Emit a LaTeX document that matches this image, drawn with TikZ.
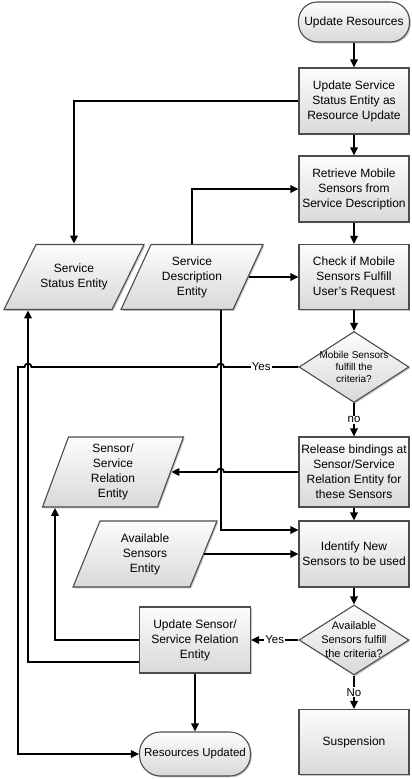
\documentclass[tikz,border=0pt]{standalone}
\usepackage{fontspec}
\setmainfont{Liberation Sans}
\usetikzlibrary{shapes.geometric,arrows.meta,shadows}

\begin{document}
\begin{tikzpicture}[x=1pt, y=-1pt, line width=1.8pt,
    proc/.style={draw=black!70, line width=1.1pt, top color=gray!2, bottom color=gray!30,
        drop shadow={shadow xshift=1.3pt, shadow yshift=-1.3pt, opacity=0.45},
        minimum width=110pt, minimum height=66pt, inner sep=1pt, align=center,
        font=\fontsize{12}{15}\selectfont},
    term/.style={proc, rounded corners=19pt, minimum width=111pt, minimum height=40pt},
    decision/.style={proc, diamond, inner sep=0pt, minimum width=110pt, minimum height=71pt},
    dtext/.style={align=center, inner sep=0pt},
    entshape/.style={draw=black!70, line width=1.1pt, top color=gray!2, bottom color=gray!30,
        drop shadow={shadow xshift=1.3pt, shadow yshift=-1.3pt, opacity=0.45}},
    enttext/.style={inner sep=0pt, align=center, font=\fontsize{12}{15}\selectfont},
    arr/.style={-{Triangle[length=8pt, width=7.5pt]}},
    lbl/.style={fill=white, inner sep=1pt, font=\fontsize{11.5}{13}\selectfont}]

    \useasboundingbox (0,0) rectangle (412,779);

    % Parallelogramma: nome, x, y, larghezza, altezza, inclinazione, testo
    \newcommand{\entity}[7]{
        \draw[entshape] (#2-#4/2+#6/2, #3-#5/2) -- (#2+#4/2+#6/2, #3-#5/2)
            -- (#2+#4/2-#6/2, #3+#5/2) -- (#2-#4/2-#6/2, #3+#5/2) -- cycle;
        \node[enttext, minimum width=#4, minimum height=#5] (#1) at (#2,#3) {#7};
    }

    % -- Colonna destra --
    \node[term] (start) at (354,22) {Update Resources};
    \node[proc] (upstat) at (354,101) {Update Service\\Status Entity as\\Resource Update};
    \node[proc] (retr) at (354,189) {Retrieve Mobile\\Sensors from\\Service Description};
    \node[proc, minimum height=65pt] (check) at (354,277) {Check if Mobile\\Sensors Fulfill\\User’s Request};
    \node[decision, label={[dtext, font=\fontsize{10}{12}\selectfont]center:Mobile Sensors\\fulfill the\\criteria?}] (dmobile) at (354,367) {};
    \node[proc, minimum height=70pt] (release) at (354,472) {Release bindings at\\Sensor/Service\\Relation Entity for\\these Sensors};
    \node[proc] (ident) at (354,554) {Identify New\\Sensors to be used};
    \node[decision, minimum height=70pt, label={[dtext, font=\fontsize{11}{14}\selectfont]center:Available\\Sensors fulfill\\the criteria?}] (davail) at (354,640) {};
    \node[proc, minimum height=65pt] (susp) at (354,742) {Suspension};

    % -- Entita' a sinistra --
    \entity{status}{74}{277}{108}{65}{32}{Service\\Status Entity}
    \entity{desc}{192}{277}{112}{65}{30}{Service\\Description\\Entity}
    \entity{relent}{113}{472}{115}{70}{26}{Sensor/\\Service\\Relation\\Entity}
    \entity{avail}{145}{554}{117}{66}{27}{Available\\Sensors\\Entity}

    \node[proc, minimum width=111pt] (upsens) at (195,640) {Update Sensor/\\Service Relation\\Entity};
    \node[term, minimum height=44pt, rounded corners=21pt, font=\fontsize{11.5}{14}\selectfont] (done) at (195,754) {Resources Updated};

    \coordinate (dline) at ([xshift=29pt]desc.south);

    % -- Frecce principali --
    \draw[arr] (start) -- (upstat);
    \draw[arr] (upstat) -- (retr);
    \draw[arr] (retr) -- (check);
    \draw[arr] (check) -- (dmobile);
    \draw[arr] (dmobile) -- node[lbl] {no} (release);
    \draw[arr] (release) -- (ident);
    \draw[arr] (ident) -- (davail);
    \draw[arr] (davail) -- node[lbl] {No} (susp);

    % -- Collegamenti con le entita' --
    \draw[arr] (upstat.west) -| (status.north);
    \draw[arr] (desc.north) |- (retr.west);
    \draw[arr] (desc.east) -- (check.west);
    \draw[arr] (dline) |- ([yshift=24pt]ident.west);
    \draw[arr] (avail.east) -- (ident.west);
    \draw[arr] (release.west) -- (224,472) arc[start angle=0, end angle=-180, radius=3.5] -- (relent.east);
    \draw[arr] (davail.west) -- node[lbl] {Yes} (upsens.east);
    \draw[arr] (upsens.west) -| ([xshift=-58pt]relent.south);
    \draw[arr] ([yshift=-22pt]upsens.west) -| ([xshift=-46pt]status.south);
    \draw[arr] (upsens) -- (done);

    % Ramo "Yes" con i salti sulle linee verticali
    \draw[arr] (dmobile.west) -- node[lbl] {Yes} (224,367)
        arc[start angle=0, end angle=-180, radius=3.5] -- (31.5,367)
        arc[start angle=0, end angle=-180, radius=3.5] -- (18,367) |- (done.west);

\end{tikzpicture}
\end{document}
